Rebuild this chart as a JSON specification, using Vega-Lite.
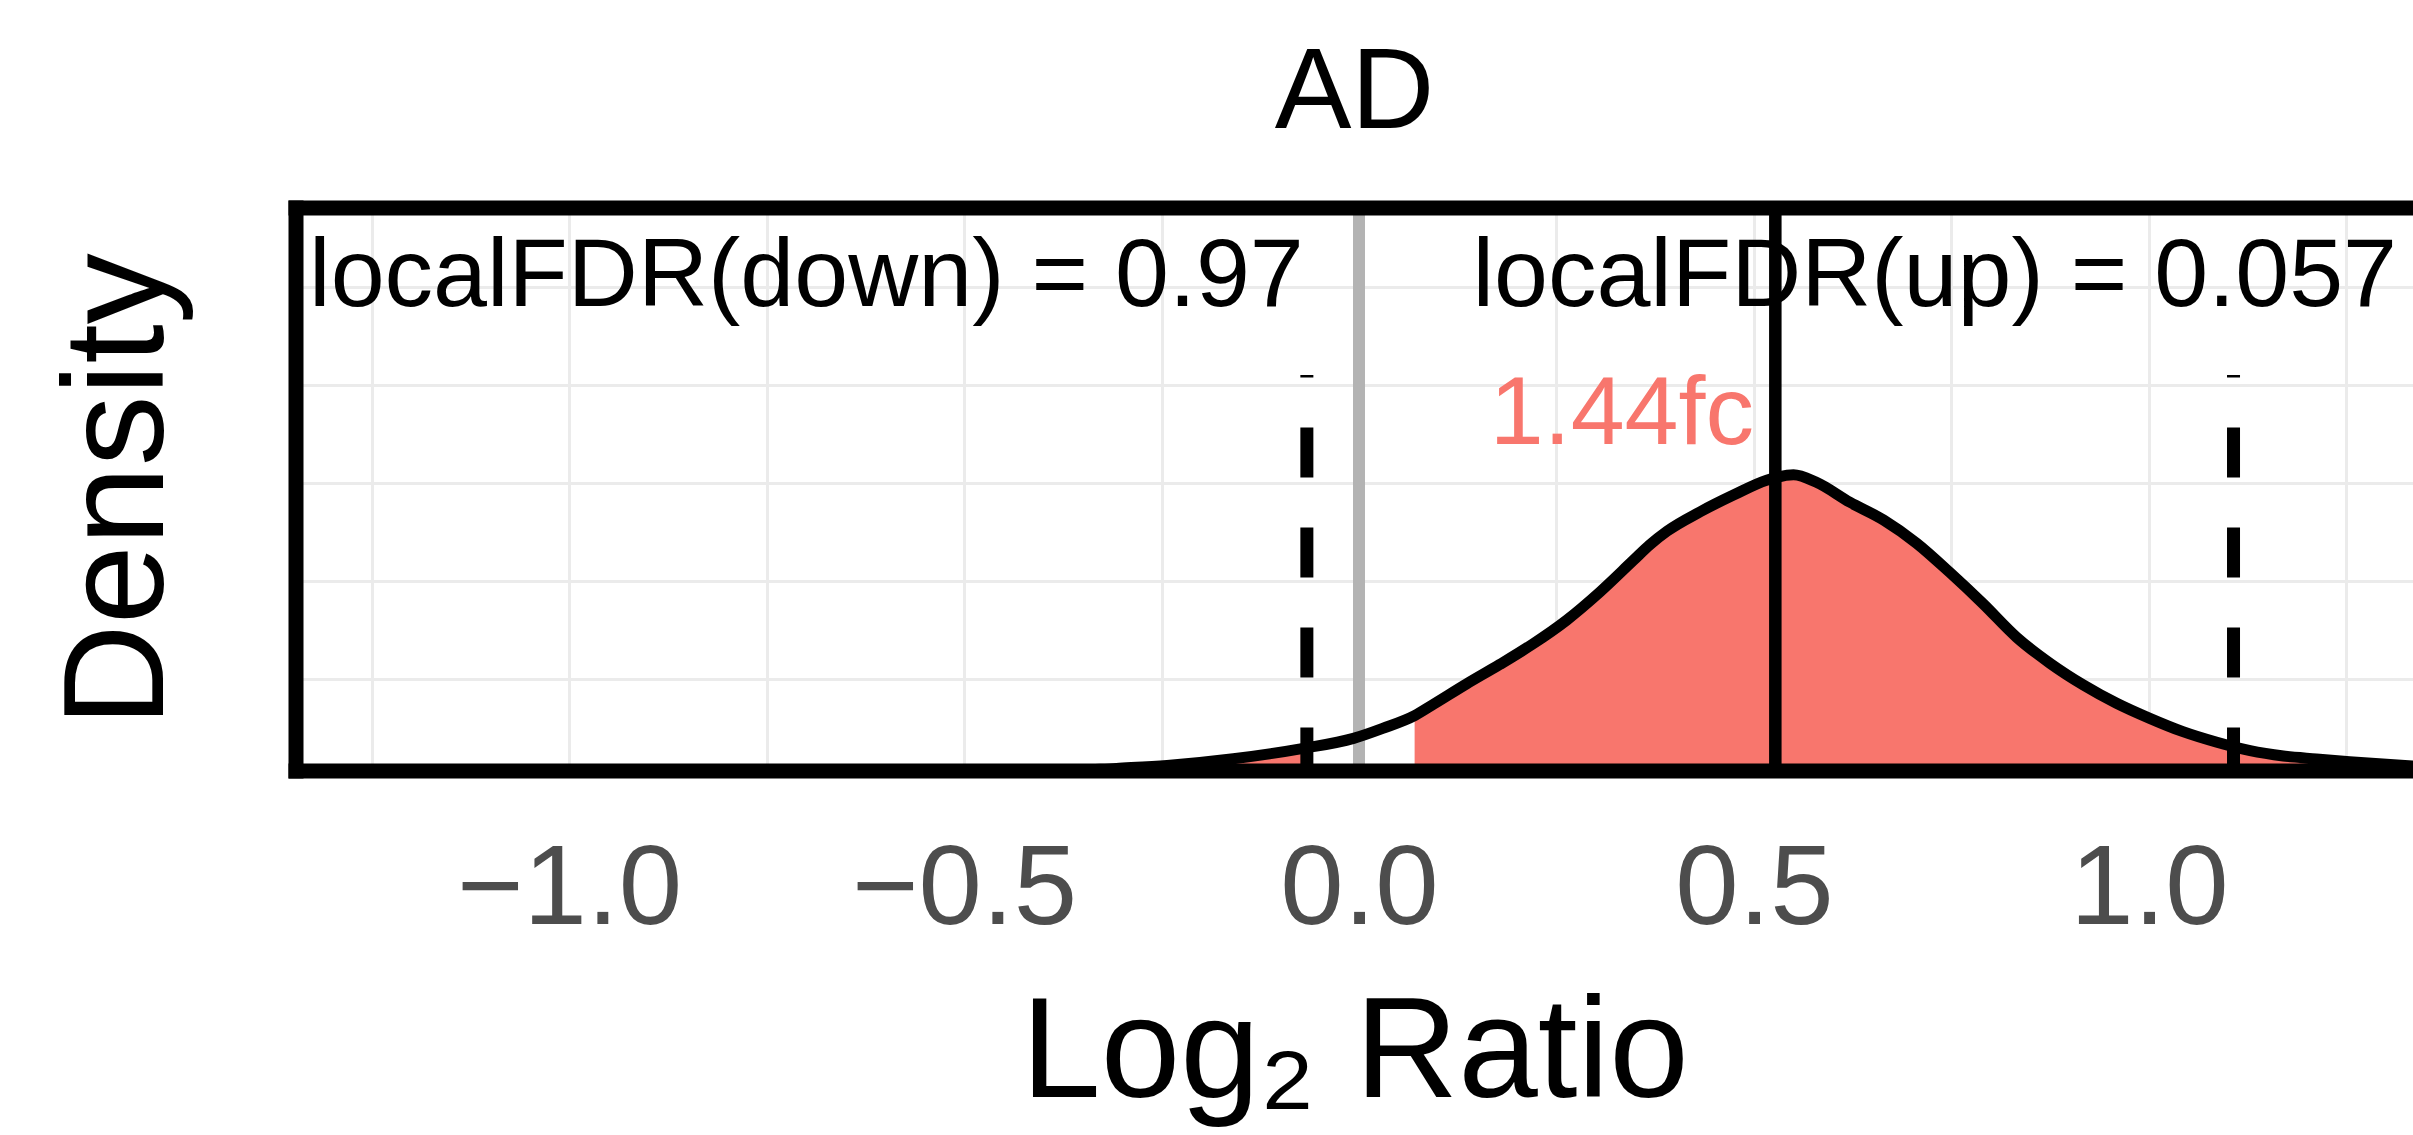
{
  "$schema": "https://vega.github.io/schema/vega-lite/v6.json",
  "autosize": {"type": "none"},
  "padding": {"left": 296, "top": 208, "right": 0, "bottom": 364},
  "width": 2117,
  "height": 563,
  "background": "white",
  "config": {"font": "Liberation Sans", "view": {"stroke": null}},
  "title": {"text": "AD", "fontSize": 115, "fontWeight": "normal", "color": "black", "baseline": "alphabetic", "frame": "group", "anchor": "middle", "offset": -46, "limit": 0},
  "datasets": {
    "curve": [
      {"x": -1.3456, "density": 0},
      {"x": -1.2, "density": 0},
      {"x": -1.0, "density": 0.001},
      {"x": -0.8, "density": 0.003},
      {"x": -0.65, "density": 0.007},
      {"x": -0.5, "density": 0.014},
      {"x": -0.4, "density": 0.026},
      {"x": -0.307, "density": 0.046},
      {"x": -0.243, "density": 0.061},
      {"x": -0.159, "density": 0.095},
      {"x": -0.0704, "density": 0.148},
      {"x": -0.007, "density": 0.199},
      {"x": 0.03, "density": 0.25},
      {"x": 0.0704, "density": 0.315},
      {"x": 0.094, "density": 0.372},
      {"x": 0.136, "density": 0.476},
      {"x": 0.178, "density": 0.575},
      {"x": 0.22, "density": 0.68},
      {"x": 0.263, "density": 0.802},
      {"x": 0.305, "density": 0.945},
      {"x": 0.347, "density": 1.105},
      {"x": 0.368, "density": 1.185},
      {"x": 0.39, "density": 1.255},
      {"x": 0.432, "density": 1.354},
      {"x": 0.474, "density": 1.439},
      {"x": 0.516, "density": 1.515},
      {"x": 0.55, "density": 1.543},
      {"x": 0.579, "density": 1.504},
      {"x": 0.6215, "density": 1.402},
      {"x": 0.664, "density": 1.312},
      {"x": 0.706, "density": 1.193},
      {"x": 0.748, "density": 1.044},
      {"x": 0.79, "density": 0.885},
      {"x": 0.8325, "density": 0.714},
      {"x": 0.875, "density": 0.581},
      {"x": 0.917, "density": 0.471},
      {"x": 0.959, "density": 0.378},
      {"x": 1.001, "density": 0.301},
      {"x": 1.043, "density": 0.233},
      {"x": 1.086, "density": 0.179},
      {"x": 1.128, "density": 0.136},
      {"x": 1.17, "density": 0.109},
      {"x": 1.212, "density": 0.094},
      {"x": 1.254, "density": 0.08},
      {"x": 1.334, "density": 0.058}
    ],
    "bounds": [{"x": -0.066}, {"x": 1.107}],
    "one": [{}]
  },
  "layer": [
    {
      "data": {"name": "curve"},
      "transform": [{"filter": "datum.x <= -0.0704"}],
      "mark": {"type": "area", "color": "#F8766D", "interpolate": "monotone", "clip": true},
      "encoding": {
        "x": {
          "field": "x", "type": "quantitative",
          "scale": {"domain": [-1.3456, 1.3342], "nice": false, "zero": false},
          "axis": {
            "title": "Log₂ Ratio", "titleFontSize": 143, "titleFontWeight": "normal", "titleColor": "black",
            "titleBaseline": "alphabetic", "titleY": 325, "titleLimit": 0,
            "domain": false, "ticks": false, "tickSize": 0,
            "labelFontSize": 114, "labelColor": "#4D4D4D", "labelBaseline": "alphabetic", "labelPadding": 152,
            "labelFlush": false, "labelOverlap": false, "labelLimit": 0,
            "values": [-1.25, -1, -0.75, -0.5, -0.25, 0, 0.25, 0.5, 0.75, 1, 1.25],
            "labelExpr": "abs(datum.value * 2 - round(datum.value * 2)) < 0.001 ? format(datum.value, '.1f') : ''",
            "grid": true, "gridColor": "#EBEBEB", "gridWidth": 3
          }
        },
        "y": {
          "field": "density", "type": "quantitative",
          "scale": {"domain": [0.0326, 2.902], "nice": false, "zero": false},
          "axis": {
            "title": "Density", "titleFontSize": 142, "titleFontWeight": "normal", "titleColor": "black",
            "titleBaseline": "alphabetic", "titleAngle": 270, "titleX": -134, "titleLimit": 0,
            "domain": false, "ticks": false, "labels": false,
            "values": [0.5, 1, 1.5, 2, 2.5],
            "grid": true, "gridColor": "#EBEBEB", "gridWidth": 3
          }
        }
      }
    },
    {
      "data": {"name": "curve"},
      "transform": [{"filter": "datum.x >= 0.0704"}],
      "mark": {"type": "area", "color": "#F8766D", "interpolate": "monotone", "clip": true},
      "encoding": {
        "x": {"field": "x", "type": "quantitative"},
        "y": {"field": "density", "type": "quantitative"}
      }
    },
    {
      "data": {"name": "one"},
      "mark": {"type": "rule", "color": "#B3B3B3", "strokeWidth": 12},
      "encoding": {"x": {"datum": 0}}
    },
    {
      "data": {"name": "curve"},
      "mark": {"type": "line", "color": "black", "strokeWidth": 11, "interpolate": "monotone", "clip": true, "strokeJoin": "round"},
      "encoding": {
        "x": {"field": "x", "type": "quantitative"},
        "y": {"field": "density", "type": "quantitative"}
      }
    },
    {
      "data": {"name": "bounds"},
      "mark": {"type": "rule", "color": "black", "strokeWidth": 13, "strokeDash": [50, 50]},
      "encoding": {
        "x": {"field": "x", "type": "quantitative"},
        "y": {"datum": 0},
        "y2": {"datum": 2.051}
      }
    },
    {
      "data": {"name": "one"},
      "mark": {"type": "rule", "color": "black", "strokeWidth": 12.5},
      "encoding": {"x": {"datum": 0.527}}
    },
    {
      "data": {"name": "one"},
      "mark": {"type": "text", "text": "localFDR(down) = 0.97", "align": "left", "baseline": "alphabetic", "fontSize": 97, "color": "black", "limit": 0},
      "encoding": {"x": {"datum": -1.329}, "y": {"datum": 2.405}}
    },
    {
      "data": {"name": "one"},
      "mark": {"type": "text", "text": "localFDR(up) = 0.057", "align": "right", "baseline": "alphabetic", "fontSize": 97, "color": "black", "limit": 0},
      "encoding": {"x": {"datum": 1.314}, "y": {"datum": 2.405}}
    },
    {
      "data": {"name": "one"},
      "mark": {"type": "text", "text": "1.44fc", "align": "right", "baseline": "alphabetic", "fontSize": 97, "color": "#F8766D", "limit": 0},
      "encoding": {"x": {"datum": 0.5}, "y": {"datum": 1.699}}
    },
    {
      "data": {"name": "one"},
      "mark": {"type": "rule", "color": "black", "strokeWidth": 15, "strokeCap": "square"},
      "encoding": {"y": {"datum": 2.902}}
    },
    {
      "data": {"name": "one"},
      "mark": {"type": "rule", "color": "black", "strokeWidth": 15, "strokeCap": "square"},
      "encoding": {"y": {"datum": 0.0326}}
    },
    {
      "data": {"name": "one"},
      "mark": {"type": "rule", "color": "black", "strokeWidth": 15, "strokeCap": "square"},
      "encoding": {"x": {"datum": -1.3456}}
    }
  ]
}
